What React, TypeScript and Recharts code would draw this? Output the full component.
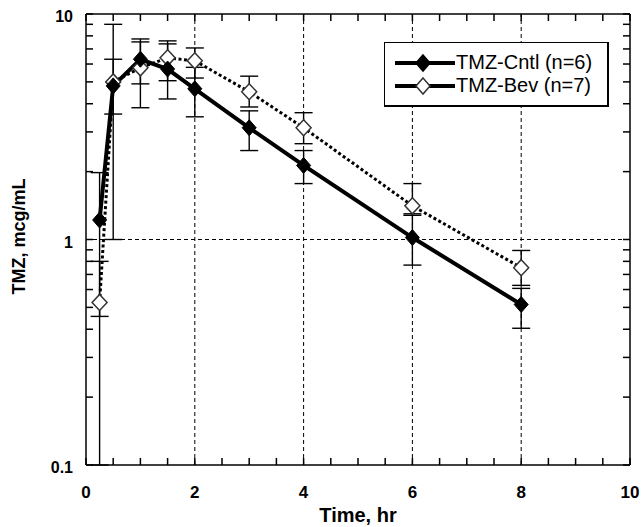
import React from "react";
import {
  ComposedChart,
  Line,
  XAxis,
  YAxis,
  ErrorBar,
  ReferenceLine,
} from "recharts";

// sampling times (hr)
const times = [0.25, 0.5, 1, 1.5, 2, 3, 4, 6, 8];

// TMZ-Cntl (n=6) mean and error bar ends, mcg/mL
const cntlMean = [1.22, 4.8, 6.3, 5.7, 4.66, 3.13, 2.13, 1.02, 0.515];
const cntlLow = [0.1, 3.6, 4.9, 4.2, 3.5, 2.48, 1.77, 0.77, 0.404];
const cntlHigh = [1.98, 6.3, 7.75, 7.37, 5.8, 3.72, 2.48, 1.3, 0.607];

// TMZ-Bev (n=7)
const bevMean = [0.526, 5.0, 5.77, 6.39, 6.2, 4.52, 3.13, 1.41, 0.75];
const bevLow = [0.456, 1.0, 3.84, 5.06, 5.2, 3.87, 2.66, 1.28, 0.626];
const bevHigh = [0.8, 9.0, 7.52, 7.6, 7.07, 5.3, 3.65, 1.77, 0.894];

const xTicks = [0, 0.5, 1, 1.5, 2, 2.5, 3, 3.5, 4, 4.5, 5, 5.5, 6, 6.5, 7, 7.5, 8, 8.5, 9, 9.5, 10];
const yTicks = [0.1, 0.2, 0.3, 0.4, 0.5, 0.6, 0.7, 0.8, 0.9, 1, 2, 3, 4, 5, 6, 7, 8, 9, 10];
const yMajor = [0.1, 1, 10];
const xGrid = [2, 4, 6, 8];

const FONT = "Arial, 'Liberation Sans', sans-serif";
const TICK_LEN = 7;

const data = times.map((t, i) => ({
  t,
  cntl: cntlMean[i],
  bev: bevMean[i],
  cntlErr: [cntlMean[i] - cntlLow[i], cntlHigh[i] - cntlMean[i]],
  bevErr: [bevMean[i] - bevLow[i], bevHigh[i] - bevMean[i]],
}));

function FilledDiamond(props: any) {
  const { cx, cy } = props;
  if (cx == null || cy == null) return null;
  return (
    <polygon
      points={`${cx},${cy - 8} ${cx + 7},${cy} ${cx},${cy + 8} ${cx - 7},${cy}`}
      fill="#000"
      stroke="#000"
      strokeWidth={1}
    />
  );
}

function OpenDiamond(props: any) {
  const { cx, cy } = props;
  if (cx == null || cy == null) return null;
  return (
    <polygon
      points={`${cx},${cy - 8} ${cx + 7.5},${cy} ${cx},${cy + 8} ${cx - 7.5},${cy}`}
      fill="#fff"
      stroke="#333"
      strokeWidth={1.5}
    />
  );
}

// tick lines come from recharts (negative tickSize = inward), these only write labels
function BottomLabel(props: any) {
  const { x, y, payload } = props;
  const v = payload.value;
  if (v % 2 !== 0) return <g />;
  return (
    <text x={x} y={y + 33} textAnchor="middle" fontFamily={FONT} fontWeight="bold" fontSize={17} fill="#000">
      {v}
    </text>
  );
}

function LeftLabel(props: any) {
  const { x, y, payload } = props;
  const v = payload.value;
  if (!yMajor.includes(v)) return <g />;
  return (
    <text x={x - 13} y={y + 8} textAnchor="end" fontFamily={FONT} fontWeight="bold" fontSize={16} fill="#000">
      {v}
    </text>
  );
}

const NoLabel = () => <g />;

function LegendRow({ filled, label }: { filled: boolean; label: string }) {
  return (
    <div style={{ display: "flex", alignItems: "center", height: 23 }}>
      <svg width={62} height={20} style={{ display: "block" }}>
        <line x1={2} x2={62} y1={10} y2={10} stroke="#000" strokeWidth={4} />
        <polygon
          points="30,2 37,10 30,18 23,10"
          fill={filled ? "#000" : "#fff"}
          stroke={filled ? "#000" : "#333"}
          strokeWidth={1.5}
        />
      </svg>
      <span style={{ fontFamily: FONT, fontSize: 20, color: "#000", marginLeft: 1, whiteSpace: "nowrap" }}>
        {label}
      </span>
    </div>
  );
}

const axisLine = { stroke: "#000", strokeWidth: 1.5 };
const tickLine = { stroke: "#000", strokeWidth: 1.5 };

export default function App() {
  return (
    <div style={{ position: "relative", width: 641, height: 527, background: "#fff" }}>
      <style>{"body{margin:0;}"}</style>
      <ComposedChart
        width={641}
        height={527}
        data={data}
        margin={{ top: 13, right: 10, bottom: 0, left: 0 }}
      >
        <XAxis
          dataKey="t"
          type="number"
          domain={[0, 10]}
          ticks={xTicks}
          interval={0}
          allowDataOverflow
          height={62}
          tickSize={-TICK_LEN}
          tickMargin={TICK_LEN}
          tickLine={tickLine}
          axisLine={axisLine}
          tick={<BottomLabel />}
          label={{
            content: (p: any) => {
              const vb = p.viewBox || {};
              return (
                <text
                  x={vb.x + vb.width / 2}
                  y={vb.y + 57}
                  textAnchor="middle"
                  fontFamily={FONT}
                  fontWeight="bold"
                  fontSize={20}
                  fill="#000"
                >
                  Time, hr
                </text>
              );
            },
          }}
        />
        <XAxis
          xAxisId="top"
          orientation="top"
          dataKey="t"
          type="number"
          domain={[0, 10]}
          ticks={xTicks}
          interval={0}
          allowDataOverflow
          height={1}
          tickSize={-TICK_LEN}
          tickMargin={0}
          tickLine={tickLine}
          axisLine={axisLine}
          tick={<NoLabel />}
        />
        <YAxis
          scale="log"
          type="number"
          domain={[0.1, 10]}
          ticks={yTicks}
          interval={0}
          allowDataOverflow
          width={86}
          tickSize={-TICK_LEN}
          tickMargin={TICK_LEN}
          tickLine={tickLine}
          axisLine={axisLine}
          tick={<LeftLabel />}
          label={{
            content: (p: any) => {
              const vb = p.viewBox || {};
              const cx = 19;
              const cy = vb.y + vb.height / 2 - 3;
              return (
                <text
                  x={cx}
                  y={cy}
                  transform={`rotate(-90 ${cx} ${cy})`}
                  textAnchor="middle"
                  dominantBaseline="central"
                  fontFamily={FONT}
                  fontWeight="bold"
                  fontSize={18}
                  fill="#000"
                >
                  TMZ, mcg/mL
                </text>
              );
            },
          }}
        />
        <YAxis
          yAxisId="right"
          orientation="right"
          scale="log"
          type="number"
          domain={[0.1, 10]}
          ticks={yTicks}
          interval={0}
          allowDataOverflow
          width={1}
          tickSize={-TICK_LEN}
          tickMargin={0}
          tickLine={tickLine}
          axisLine={axisLine}
          tick={<NoLabel />}
        />

        {xGrid.map((g) => (
          <ReferenceLine key={g} x={g} stroke="#000" strokeWidth={1} strokeDasharray="4 3" />
        ))}
        <ReferenceLine y={1} stroke="#000" strokeWidth={1} strokeDasharray="4 3" />

        <Line
          dataKey="bev"
          name="TMZ-Bev (n=7)"
          stroke="#000"
          strokeWidth={3}
          strokeDasharray="3 2.5"
          dot={<OpenDiamond />}
          activeDot={false}
          isAnimationActive={false}
        >
          <ErrorBar dataKey="bevErr" direction="y" width={9} stroke="#000" strokeWidth={1.4} />
        </Line>
        <Line
          dataKey="cntl"
          name="TMZ-Cntl (n=6)"
          stroke="#000"
          strokeWidth={4}
          dot={<FilledDiamond />}
          activeDot={false}
          isAnimationActive={false}
        >
          <ErrorBar dataKey="cntlErr" direction="y" width={9} stroke="#000" strokeWidth={1.4} />
        </Line>
      </ComposedChart>

      <div
        style={{
          position: "absolute",
          left: 384,
          top: 42,
          width: 225,
          height: 65,
          border: "1.5px solid #000",
          borderRightWidth: 2.5,
          borderBottomWidth: 2.5,
          background: "#fff",
          padding: "8px 0 0 8px",
          boxSizing: "border-box",
        }}
      >
        <LegendRow filled label="TMZ-Cntl (n=6)" />
        <LegendRow filled={false} label="TMZ-Bev (n=7)" />
      </div>
    </div>
  );
}
